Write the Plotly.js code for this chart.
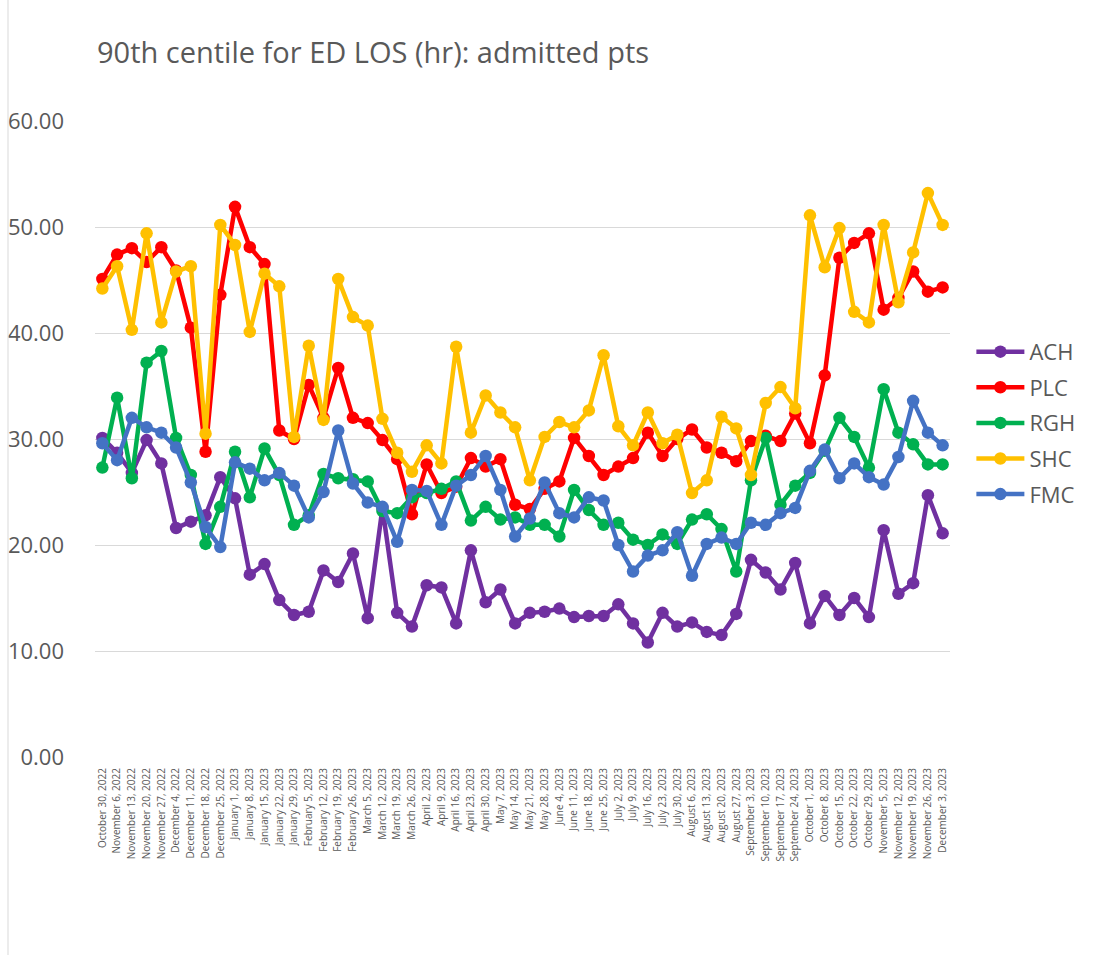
<!DOCTYPE html>
<html>
<head>
<meta charset="utf-8">
<script src="https://cdn.plot.ly/plotly-3.0.1.min.js"></script>
<style>html,body{margin:0;padding:0;background:#fff;}#chart{width:1113px;height:955px;}</style>
</head>
<body>
<div id="chart"></div>
<script>
const weeks = ["October 30, 2022","November 6, 2022","November 13, 2022","November 20, 2022","November 27, 2022","December 4, 2022","December 11, 2022","December 18, 2022","December 25, 2022","January 1, 2023","January 8, 2023","January 15, 2023","January 22, 2023","January 29, 2023","February 5, 2023","February 12, 2023","February 19, 2023","February 26, 2023","March 5, 2023","March 12, 2023","March 19, 2023","March 26, 2023","April 2, 2023","April 9, 2023","April 16, 2023","April 23, 2023","April 30, 2023","May 7, 2023","May 14, 2023","May 21, 2023","May 28, 2023","June 4, 2023","June 11, 2023","June 18, 2023","June 25, 2023","July 2, 2023","July 9, 2023","July 16, 2023","July 23, 2023","July 30, 2023","August 6, 2023","August 13, 2023","August 20, 2023","August 27, 2023","September 3, 2023","September 10, 2023","September 17, 2023","September 24, 2023","October 1, 2023","October 8, 2023","October 15, 2023","October 22, 2023","October 29, 2023","November 5, 2023","November 12, 2023","November 19, 2023","November 26, 2023","December 3, 2023"];

const ACH = [30.1,28.7,26.8,29.9,27.7,21.6,22.2,22.8,26.4,24.4,17.2,18.2,14.8,13.4,13.7,17.6,16.5,19.2,13.1,23.5,13.6,12.3,16.2,16.0,12.6,19.5,14.6,15.8,12.6,13.6,13.7,14.0,13.2,13.3,13.3,14.4,12.6,10.8,13.6,12.3,12.7,11.8,11.5,13.5,18.6,17.4,15.8,18.3,12.6,15.2,13.4,15.0,13.2,21.4,15.4,16.4,24.7,21.1];
const PLC = [45.1,47.4,48.0,46.7,48.1,45.9,40.5,28.8,43.6,51.9,48.1,46.5,30.8,30.0,35.1,32.0,36.7,32.0,31.5,29.9,28.1,22.9,27.6,24.9,25.5,28.2,27.4,28.1,23.8,23.4,25.3,26.0,30.1,28.4,26.6,27.4,28.2,30.6,28.4,30.0,30.9,29.2,28.7,27.9,29.8,30.3,29.8,32.4,29.6,36.0,47.1,48.5,49.4,42.2,43.3,45.8,43.9,44.3];
const RGH = [27.3,33.9,26.3,37.2,38.3,30.1,26.6,20.1,23.6,28.8,24.5,29.1,26.6,21.9,22.8,26.7,26.3,26.2,26.0,23.2,23.0,24.5,24.9,25.3,26.0,22.3,23.6,22.4,22.6,21.9,21.9,20.8,25.2,23.3,21.9,22.1,20.5,20.0,21.0,20.1,22.4,22.9,21.5,17.5,26.1,30.1,23.8,25.6,26.8,28.9,32.0,30.2,27.3,34.7,30.6,29.5,27.6,27.6];
const SHC = [44.2,46.3,40.3,49.4,41.0,45.8,46.3,30.5,50.2,48.3,40.1,45.6,44.4,30.2,38.8,31.8,45.1,41.5,40.7,31.9,28.7,26.9,29.4,27.7,38.7,30.6,34.1,32.5,31.1,26.1,30.2,31.6,31.1,32.7,37.9,31.2,29.4,32.5,29.6,30.4,24.9,26.1,32.1,31.0,26.6,33.4,34.9,32.9,51.1,46.2,49.9,42.0,41.0,50.2,42.9,47.6,53.2,50.2];
const FMC = [29.6,28.0,32.0,31.1,30.6,29.2,25.9,21.7,19.8,27.8,27.2,26.1,26.8,25.6,22.6,25.0,30.8,25.8,24.0,23.6,20.3,25.2,25.1,21.9,25.6,26.6,28.4,25.2,20.8,22.5,25.9,23.0,22.6,24.5,24.2,20.0,17.5,19.0,19.5,21.2,17.1,20.1,20.7,20.1,22.1,21.9,23.0,23.5,27.0,29.0,26.3,27.7,26.4,25.7,28.3,33.6,30.6,29.4];

const yTicks = [0,10,20,30,40,50,60];
const seriesNames = ["ACH","PLC","RGH","SHC","FMC"];
const seriesData = [ACH,PLC,RGH,SHC,FMC];
const seriesColors = ["#7030A0","#FF0000","#00B050","#FFC000","#4472C4"];

const FONT = "Open Sans, Noto Sans, sans-serif";
const traces = seriesNames.map((n,i)=>({
  type:"scatter", mode:"lines+markers", name:n, x:weeks, y:seriesData[i],
  legendgroup:n,
  line:{color:seriesColors[i], width:4.5},
  marker:{color:seriesColors[i], size:12.5},
  hoverinfo:"x+y+name"
}));

const layout = {
  width:1113, height:955,
  paper_bgcolor:"#fff", plot_bgcolor:"#fff",
  margin:{l:95, r:163, t:121, b:198},
  font:{family:FONT, color:"#595959"},
  title:{text:"90th centile for ED LOS (hr): admitted pts", x:97/1113, xanchor:"left", y:1-53/955, yanchor:"middle",
         font:{family:FONT, size:29, color:"#595959"}},
  xaxis:{type:"category", range:[-0.5, weeks.length-0.5], autorange:false, tickangle:-90,
         tickfont:{size:10, color:"#595959", family:FONT}, ticklabelstandoff:8,
         showgrid:false, showline:false, zeroline:false, ticks:"", automargin:false},
  yaxis:{range:[0,60], autorange:false, tickvals:yTicks, tickformat:".2f", tickfont:{size:22, color:"#595959", family:FONT},
         showgrid:true, gridcolor:"#d9d9d9", gridwidth:1, zeroline:false, showline:false, ticks:"",
         ticklabelstandoff:30, automargin:false},
  legend:{x:1.025, xanchor:"left", y:0.67, yanchor:"top", font:{size:22, color:"#595959", family:FONT},
          tracegroupgap:4, itemwidth:48, bgcolor:"rgba(0,0,0,0)"},
  showlegend:true,
  shapes:[{type:"line", xref:"paper", yref:"paper", x0:-87/855, x1:-87/855, y0:-198/636, y1:1+121/636,
           line:{color:"#d9d9d9", width:1}}]
};

Plotly.newPlot("chart", traces, layout, {displayModeBar:false});
</script>
</body>
</html>
